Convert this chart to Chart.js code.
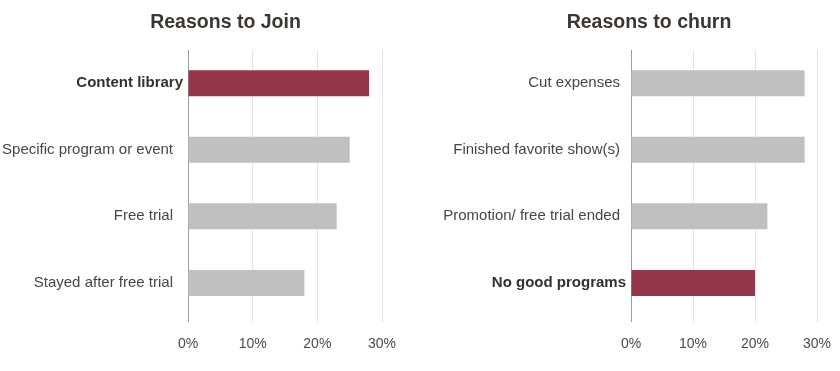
<!DOCTYPE html>
<html>
<head>
<meta charset="utf-8">
<script src="https://cdn.jsdelivr.net/npm/chart.js@4/dist/chart.umd.min.js"></script>
<style>
  html, body { margin: 0; padding: 0; background: #ffffff; overflow: hidden; }
  #wrap { position: relative; width: 840px; height: 371px; overflow: hidden; }
  .panel { position: absolute; top: 0; height: 371px; }
  #p1 { left: 0; width: 451px; }
  #p2 { left: 440px; width: 418px; }
</style>
</head>
<body>
<div id="wrap">
  <div class="panel" id="p1"><canvas id="c1" width="451" height="371"></canvas></div>
  <div class="panel" id="p2"><canvas id="c2" width="418" height="371"></canvas></div>
</div>
<script>
// ---- data ----
const joinTitle = 'Reasons to Join';
const joinLabels = ['Content library', 'Specific program or event', 'Free trial', 'Stayed after free trial'];
const joinValues = [28, 25, 23, 18];
const joinHighlight = [true, false, false, false];

const churnTitle = 'Reasons to churn';
const churnLabels = ['Cut expenses', 'Finished favorite show(s)', 'Promotion/ free trial ended', 'No good programs'];
const churnValues = [28, 28, 22, 20];
const churnHighlight = [false, false, false, true];

const axisMin = 0;
const axisMax = 30;
const axisStep = 10;

// ---- styles ----
const HIGHLIGHT = '#94374b';
const NORMAL = '#c0c0c0';
const FONT = "'Liberation Sans', Arial, Helvetica, sans-serif";

// shift bold (highlighted) category labels closer to the axis
const boldShiftPlugin = {
  id: 'boldShift',
  beforeDraw(chart, args, opts) {
    const scale = chart.scales.y;
    const items = scale.getLabelItems();
    const hl = opts.highlight || [];
    items.forEach((it, i) => {
      if (hl[i] && !it._shifted) {
        it.options.translation[0] += opts.shift || 0;
        it._shifted = true;
      }
    });
  }
};

function makeChart(id, title, labels, values, highlight, cfg) {
  return new Chart(document.getElementById(id), {
    type: 'bar',
    data: {
      labels: labels,
      datasets: [{
        data: values,
        backgroundColor: highlight.map(h => h ? HIGHLIGHT : NORMAL),
        borderWidth: 0,
        barPercentage: 0.39,
        categoryPercentage: 1.0
      }]
    },
    plugins: [boldShiftPlugin],
    options: {
      indexAxis: 'y',
      responsive: false,
      animation: false,
      devicePixelRatio: 1,
      layout: { padding: { left: 0, right: 0, top: 0, bottom: 4 } },
      plugins: {
        legend: { display: false },
        tooltip: { enabled: false },
        boldShift: { shift: cfg.boldShift, highlight: highlight },
        title: {
          display: true,
          text: title,
          color: '#3b3631',
          font: { family: FONT, size: 19.5, weight: 'bold' },
          padding: { top: 10.5, bottom: 16 }
        }
      },
      scales: {
        x: {
          min: axisMin,
          max: axisMax,
          border: { display: false },
          grid: {
            color: (ctx) => ctx.index === 0 ? '#9c9c9c' : '#e4e4e4',
            tickColor: (ctx) => ctx.index === 0 ? '#9c9c9c' : '#e4e4e4',
            lineWidth: 1,
            tickLength: 6,
            drawTicks: true
          },
          ticks: {
            stepSize: axisStep,
            padding: 14,
            color: '#4a4a4a',
            font: { family: FONT, size: 14 },
            callback: (v) => v + '%'
          },
          afterFit: (scale) => { scale.paddingLeft = 0; scale.paddingRight = cfg.padRight; }
        },
        y: {
          border: { display: false },
          grid: { display: false, drawTicks: false },
          ticks: {
            padding: cfg.labelPad,
            color: (ctx) => highlight[ctx.index] ? '#35302b' : '#4b4541',
            font: (ctx) => ({ family: FONT, size: 15, weight: highlight[ctx.index] ? 'bold' : 'normal' })
          },
          afterFit: (scale) => { scale.width = cfg.yWidth; scale.paddingTop = 0; scale.paddingBottom = 0; }
        }
      }
    }
  });
}

makeChart('c1', joinTitle, joinLabels, joinValues, joinHighlight,
  { padRight: 69, yWidth: 188, labelPad: 15, boldShift: 10 });
makeChart('c2', churnTitle, churnLabels, churnValues, churnHighlight,
  { padRight: 41, yWidth: 191, labelPad: 11, boldShift: 6 });
</script>
</body>
</html>
